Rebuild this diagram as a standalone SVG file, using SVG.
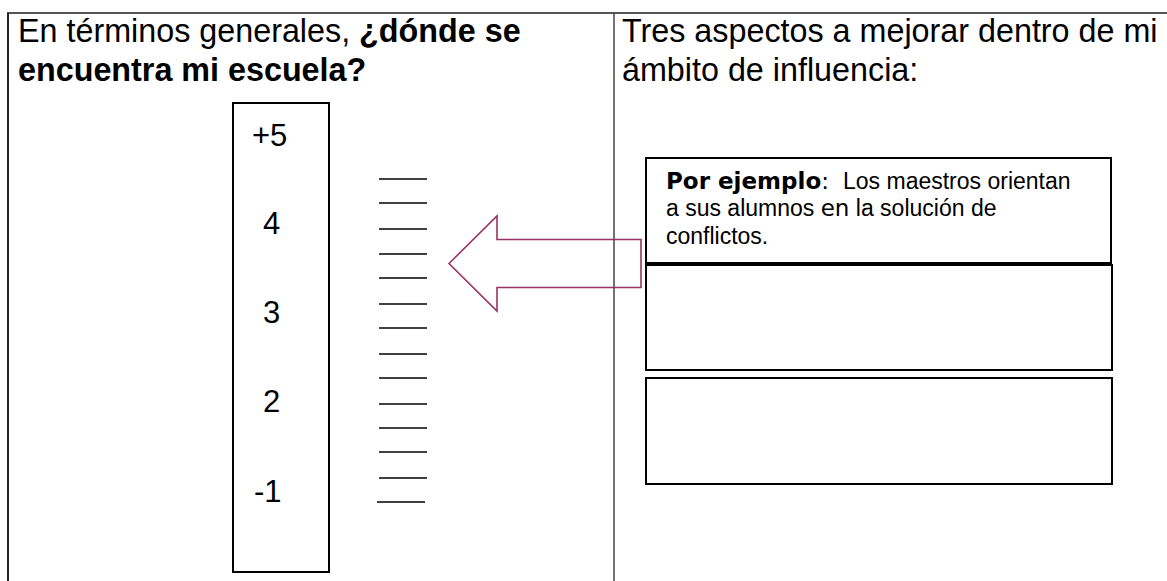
<svg xmlns="http://www.w3.org/2000/svg" width="1167" height="581" viewBox="0 0 1167 581">
<style>
.hdr{font-family:"Liberation Sans",Arial,sans-serif;font-size:32.3px;fill:#000}
.b{font-weight:bold}
.num{font-family:"Liberation Sans",Arial,sans-serif;font-size:31px;fill:#000}
.small{font-family:"Liberation Sans",Arial,sans-serif;font-size:23px;fill:#000}
.dv{font-family:"DejaVu Sans",sans-serif}
.box{fill:#fff;stroke:#000;stroke-width:2}
.tick{stroke:#000;stroke-width:1.5}
</style>
<rect width="1167" height="581" fill="#fff"/>
<g id="table">
<line x1="7" y1="13" x2="1167" y2="13" stroke="#555" stroke-width="2"/>
<line x1="8" y1="13" x2="8" y2="581" stroke="#222" stroke-width="2"/>
<line x1="614" y1="13" x2="614" y2="581" stroke="#444" stroke-width="1.5"/>
</g>
<g id="header-left">
<text class="hdr" x="18" y="42">En términos generales, <tspan class="b">¿dónde se</tspan></text>
<text class="hdr b" x="18" y="81">encuentra mi escuela?</text>
</g>
<g id="header-right">
<text class="hdr" x="622" y="42">Tres aspectos a mejorar dentro de mi</text>
<text class="hdr" x="622" y="81">ámbito de influencia:</text>
</g>
<g id="scale">
<rect class="box" x="233" y="103" width="96" height="469"/>
<text class="num" x="252" y="146">+5</text>
<text class="num" x="263" y="234">4</text>
<text class="num" x="263" y="323">3</text>
<text class="num" x="263" y="412">2</text>
<text class="num" x="254" y="502">-1</text>
</g>
<g id="ticks">
<line class="tick" x1="379" y1="179" x2="427" y2="179"/>
<line class="tick" x1="379" y1="203" x2="427" y2="203"/>
<line class="tick" x1="379" y1="229" x2="427" y2="229"/>
<line class="tick" x1="379" y1="254" x2="427" y2="254"/>
<line class="tick" x1="379" y1="278" x2="427" y2="278"/>
<line class="tick" x1="379" y1="304" x2="427" y2="304"/>
<line class="tick" x1="379" y1="328" x2="427" y2="328"/>
<line class="tick" x1="379" y1="354" x2="427" y2="354"/>
<line class="tick" x1="379" y1="378" x2="427" y2="378"/>
<line class="tick" x1="379" y1="404" x2="427" y2="404"/>
<line class="tick" x1="379" y1="428" x2="427" y2="428"/>
<line class="tick" x1="379" y1="452" x2="427" y2="452"/>
<line class="tick" x1="379" y1="478" x2="427" y2="478"/>
<line class="tick" x1="377" y1="502" x2="425" y2="502"/>
</g>
<g id="connectors">
<path d="M449,263.5 L497,216 L497,239.5 L641,239.5 L641,287.5 L497,287.5 L497,311 Z" fill="none" stroke="#993366" stroke-width="1.6" stroke-linejoin="miter"/>
</g>
<g id="box1">
<rect class="box" x="646" y="158" width="465" height="105"/>
<text class="small" x="666" y="189"><tspan class="dv b">Por ejemplo</tspan><tspan class="dv">:</tspan><tspan x="843">Los maestros orientan</tspan></text>
<text class="small" x="666" y="216">a sus alumnos <tspan class="dv">en</tspan> la solución de</text>
<text class="small" x="666" y="244">conflictos.</text>
</g>
<g id="box2">
<rect class="box" x="646" y="265" width="466" height="105"/>
</g>
<g id="box3">
<rect class="box" x="646" y="378" width="466" height="106"/>
</g>
</svg>
